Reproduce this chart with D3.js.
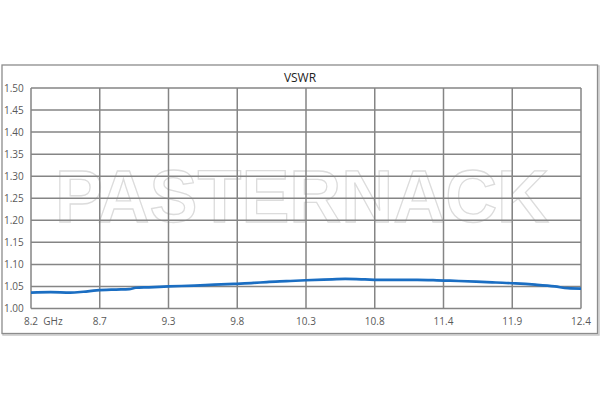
<!DOCTYPE html>
<html><head><meta charset="utf-8">
<script src="https://cdn.jsdelivr.net/npm/d3@7"></script>
<style>html,body{margin:0;padding:0;background:#fff;}</style>
</head><body>
<svg id="c" width="600" height="400"></svg>
<script>
const title = "VSWR";
const watermark = "PASTERNACK";
const xTickValues = [8.2, 8.725, 9.25, 9.775, 10.3, 10.825, 11.35, 11.875, 12.4];
const xTickLabels = ["8.2", "8.7", "9.3", "9.8", "10.3", "10.8", "11.4", "11.9", "12.4"];
const xUnit = "GHz";
const yTickValues = [1.00, 1.05, 1.10, 1.15, 1.20, 1.25, 1.30, 1.35, 1.40, 1.45, 1.50];
const freq = [8.2, 8.35, 8.5, 8.6, 8.7, 8.85, 8.95, 9.0, 9.1, 9.25, 9.45, 9.6, 9.75, 9.9, 10.0, 10.15, 10.3, 10.5, 10.6, 10.75, 10.85, 11.0, 11.15, 11.3, 11.4, 11.6, 11.75, 11.9, 12.05, 12.2, 12.3, 12.4];
const vswr = [1.036, 1.037, 1.036, 1.038, 1.041, 1.043, 1.044, 1.047, 1.048, 1.050, 1.052, 1.054, 1.056, 1.058, 1.060, 1.062, 1.064, 1.066, 1.067, 1.066, 1.065, 1.065, 1.065, 1.064, 1.063, 1.061, 1.059, 1.057, 1.054, 1.050, 1.046, 1.045];

const svg = d3.select("#c");
const font = "'Open Sans', 'Liberation Sans', sans-serif";
const L = 31, R = 581, T = 88, B = 308.5;
const x = d3.scaleLinear().domain([8.2, 12.4]).range([L, R]);
const y = d3.scaleLinear().domain([1.0, 1.5]).range([B, T]);

// frame
svg.append("rect").attr("x", 3).attr("y", 66).attr("width", 596).attr("height", 269)
  .attr("fill", "none").attr("stroke", "#c8c8c8").attr("stroke-width", 1.5);
svg.append("rect").attr("x", 2).attr("y", 65).attr("width", 595.5).attr("height", 268.5)
  .attr("fill", "#fff").attr("stroke", "#8c8c8c").attr("stroke-width", 1.3);

// watermark
svg.append("text").attr("x", 302).attr("y", 222).attr("text-anchor", "middle")
  .attr("font-family", "'Liberation Sans', Arial, sans-serif").attr("font-weight", "bold")
  .attr("font-size", 74).attr("textLength", 494).attr("lengthAdjust", "spacingAndGlyphs")
  .attr("fill", "none").attr("stroke", "#dcdcdc").attr("stroke-width", 1.3)
  .text(watermark);

// grid
const g = svg.append("g");
g.selectAll(".h").data(yTickValues).join("line")
  .attr("x1", L).attr("x2", R).attr("y1", d => y(d)).attr("y2", d => y(d))
  .attr("stroke", "#858585").attr("stroke-width", 1.5);
g.selectAll(".v").data(xTickValues).join("line")
  .attr("y1", T).attr("y2", B).attr("x1", d => x(d)).attr("x2", d => x(d))
  .attr("stroke", "#858585").attr("stroke-width", 1.5);

// y labels
svg.selectAll(".yl").data(yTickValues).join("text")
  .attr("x", 4).attr("y", d => y(d) + 3.6)
  .attr("font-family", font).attr("font-size", 10).attr("fill", "#595959")
  .text(d => d.toFixed(2));

// x labels
svg.selectAll(".xl").data(xTickValues).join("text")
  .attr("x", (d, i) => i === 0 ? x(d) - 7 : x(d)).attr("y", 325)
  .attr("text-anchor", (d, i) => i === 0 ? "start" : "middle")
  .attr("font-family", font).attr("font-size", 10).attr("fill", "#595959")
  .text((d, i) => i === 0 ? xTickLabels[i] + "\u00a0\u00a0" + xUnit : xTickLabels[i]);

// title
svg.append("text").attr("x", 300).attr("y", 82).attr("text-anchor", "middle")
  .attr("font-family", font).attr("font-size", 12).attr("fill", "#222")
  .text(title);

// line
const data = freq.map((f, i) => [f, vswr[i]]);
svg.append("path").datum(data)
  .attr("d", d3.line().x(d => x(d[0])).y(d => y(d[1])).curve(d3.curveMonotoneX))
  .attr("fill", "none").attr("stroke", "#1b6ec2").attr("stroke-width", 2.7)
  .attr("stroke-linejoin", "round");
</script>
</body></html>
